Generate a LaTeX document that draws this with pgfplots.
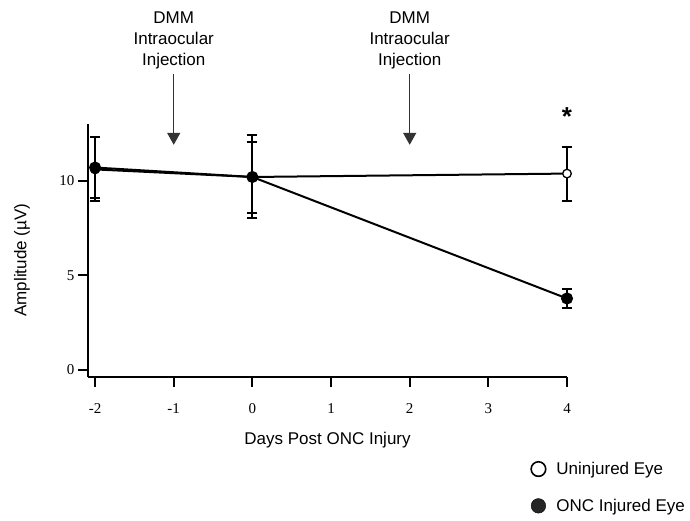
\documentclass[border=0pt]{standalone}
\usepackage{pgfplots}
\pgfplotsset{compat=1.18}
\usepackage{fontspec}
\setmainfont{Liberation Serif}
\setsansfont{Liberation Sans}
\usetikzlibrary{arrows.meta}
\begin{document}
\begin{tikzpicture}
\useasboundingbox (-88bp,-144bp) rectangle (602bp,377bp);
\begin{axis}[
  scale only axis,
  width=479bp, height=253bp,
  xmin=-2.09, xmax=4.0,
  ymin=-0.37, ymax=13.0,
  axis lines=left,
  axis line style={-, line width=2.2bp},
  xtick={-2,-1,0,1,2,3,4},
  ytick={0,5,10},
  tick align=outside,
  major tick length=10bp,
  tick style={line width=2bp, black},
  /pgf/number format/assume math mode=true,
  tick label style={font=\fontsize{15bp}{17bp}\selectfont},
  xticklabel style={yshift=-13bp},
  xlabel={Days Post ONC Injury},
  ylabel={Amplitude (µV)},
  xlabel style={font=\sffamily\fontsize{17bp}{20bp}\selectfont, at={(axis description cs:0.5,-0.249)}, anchor=center},
  ylabel style={font=\sffamily\fontsize{17bp}{20bp}\selectfont, at={(axis description cs:-0.1378,0.462)}, anchor=center, rotate=0},
  clip=false,
  legend style={draw=none, fill=none, font=\sffamily\fontsize{17bp}{20bp}\selectfont,
    at={(axis description cs:1.257,-0.32)}, anchor=north east, row sep=19bp},
  legend cell align=left,
  legend image code/.code={\path[draw=none, fill=none] (-8bp,-1bp) rectangle (16bp,1bp); \draw[#1] plot coordinates {(0bp,0bp)};},
  error bars/y dir=both, error bars/y explicit,
  error bars/error bar style={line width=2bp, black},
  error bars/error mark options={line width=2bp, black, mark size=5bp, rotate=90},
]
% Uninjured eye
\addplot+[forget plot, black, line width=2bp, mark=*, mark size=4.3bp, mark options={black, fill=white, line width=1.3bp}]
  coordinates {
  (-2,10.60) += (0,1.70) -= (0,1.66)
  (0,10.20) += (0,2.23) -= (0,2.16)
  (4,10.38) += (0,1.42) -= (0,1.44)
  };
% ONC injured eye
\addplot+[forget plot, black, line width=2bp, mark=*, mark size=5bp, mark options={black}]
  coordinates {
  (-2,10.70) += (0,1.60) -= (0,1.60)
  (0,10.20) += (0,1.86) -= (0,1.90)
  (4,3.78) += (0,0.50) -= (0,0.50)
  };
\addlegendimage{only marks, mark=*, mark size=7.3bp, mark options={draw=black, fill=white, line width=1.6bp}}
\addlegendentry{Uninjured Eye}
\addlegendimage{only marks, mark=*, mark size=7.3bp, mark options={fill=black!85, draw=black}}
\addlegendentry{ONC Injured Eye}
% annotations
\draw[black!80, line width=1.5bp, -{Triangle[width=13bp,length=12bp]}] (axis cs:-1,15.65) -- (axis cs:-1,11.9);
\draw[black!80, line width=1.5bp, -{Triangle[width=13bp,length=12bp]}] (axis cs:2,15.65) -- (axis cs:2,11.9);
\node[font=\sffamily\fontsize{17bp}{21bp}\selectfont, align=center, anchor=north, inner sep=0pt] at (axis cs:-1,18.95) {DMM\\Intraocular\\Injection};
\node[font=\sffamily\fontsize{17bp}{21bp}\selectfont, align=center, anchor=north, inner sep=0pt] at (axis cs:2,18.95) {DMM\\Intraocular\\Injection};
\node[font=\sffamily\bfseries\fontsize{26bp}{28bp}\selectfont, inner sep=0pt] at (axis cs:4,13.4) {*};
\end{axis}
\end{tikzpicture}
\end{document}
